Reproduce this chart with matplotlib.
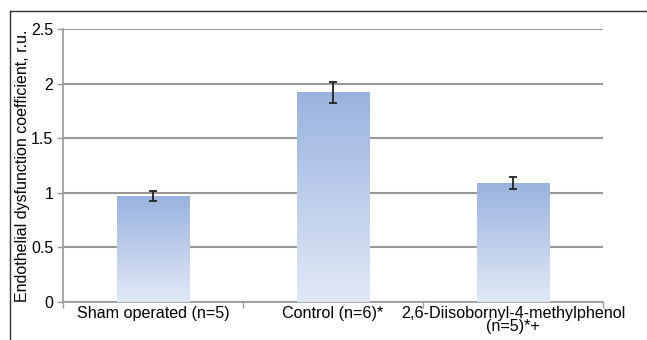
import numpy as np
import matplotlib.pyplot as plt
from matplotlib.lines import Line2D

groups = ["Sham operated (n=5)", "Control (n=6)*", "2,6-Diisobornyl-4-methylphenol\n(n=5)*+"]
values = [0.97, 1.92, 1.09]
errors = [0.045, 0.095, 0.055]
yticks = [0, 0.5, 1, 1.5, 2, 2.5]
ytick_labels = ["0", "0.5", "1", "1.5", "2", "2.5"]

plt.rcParams["font.family"] = ["Liberation Sans", "DejaVu Sans"]


def main():
    fig = plt.figure(figsize=(6.47, 3.4), dpi=100)
    ax = fig.add_axes([63/647, 38/340, 540/647, 273/340])

    x = np.arange(len(groups))
    bars = ax.bar(x, values, width=0.405, color="none", edgecolor="none", zorder=3)

    # vertical gradient fill inside each bar
    grad = np.linspace(0, 1, 256)
    top = np.array([0.604, 0.698, 0.871])
    bot = np.array([0.882, 0.914, 0.965])
    img = np.zeros((256, 1, 3))
    for i in range(3):
        img[:, 0, i] = top[i] + (bot[i] - top[i]) * grad
    for b in bars:
        x0, w, h = b.get_x(), b.get_width(), b.get_height()
        im = ax.imshow(img, extent=[x0, x0 + w, 0, h], aspect="auto", zorder=3, origin="upper")
        im.set_clip_path(b)

    ax.errorbar(x, values, yerr=errors, fmt="none", ecolor="#222222",
                elinewidth=1.3, capsize=3, capthick=1.3, zorder=4)

    ax.set_xlim(-0.5, 2.5)
    ax.set_ylim(0, 2.5)
    ax.set_yticks(yticks)
    ax.set_yticklabels(ytick_labels, fontsize=11.5)
    ax.yaxis.grid(True, color="#999999", linewidth=1.5, zorder=1)
    ax.set_axisbelow(True)

    ax.set_xticks(x)
    ax.set_xticklabels(groups, fontsize=11.6, linespacing=0.8)
    ax.tick_params(axis="x", length=0, pad=3)
    ax.set_xticks([-0.5, 0.5, 1.5, 2.5], minor=True)
    ax.tick_params(axis="x", which="minor", length=4, color="#999999", width=1)
    ax.tick_params(axis="y", length=4, color="#999999", width=1, pad=3)

    for s in ["top", "right"]:
        ax.spines[s].set_visible(False)
    ax.spines["left"].set_color("#999999")
    ax.spines["bottom"].set_color("#999999")
    ax.spines["left"].set_linewidth(1.2)
    ax.spines["bottom"].set_linewidth(1.2)

    ax.set_ylabel("Endothelial dysfunction coefficient, r.u.", fontsize=11.5)
    ax.yaxis.set_label_coords(-0.062, 0.5)

    # outer frame (left and top only)
    fig.add_artist(Line2D([10/647, 10/647], [0, 329/340], color="#333333", linewidth=1, transform=fig.transFigure))
    fig.add_artist(Line2D([10/647, 1], [329/340, 329/340], color="#333333", linewidth=1, transform=fig.transFigure))

    fig.savefig("out.png", dpi=100)


if __name__ == "__main__":
    main()
